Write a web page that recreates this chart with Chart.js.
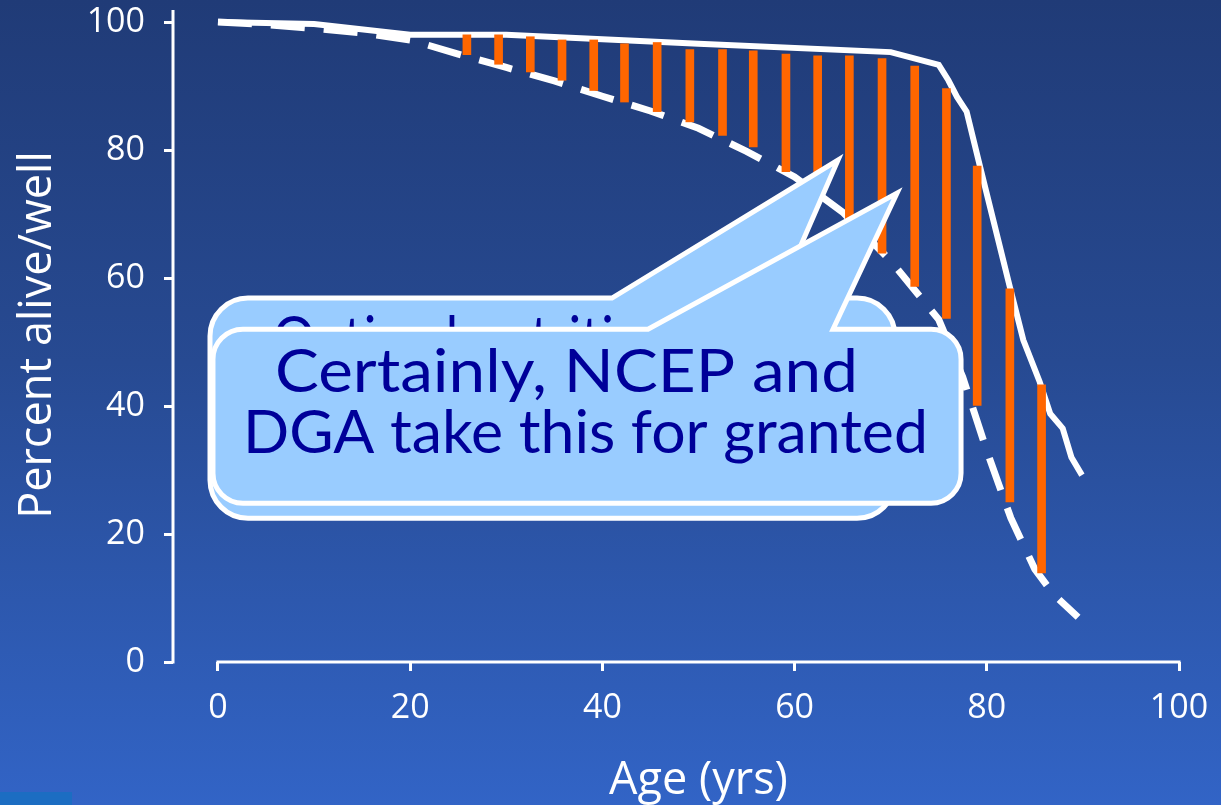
<!DOCTYPE html>
<html>
<head>
<meta charset="utf-8">
<script src="https://cdn.jsdelivr.net/npm/chart.js@4.4.1/dist/chart.umd.min.js"></script>
<style>
  html, body { margin: 0; padding: 0; width: 1221px; height: 805px; overflow: hidden; }
  body { position: relative; background: linear-gradient(to bottom, #203b77 0%, #274a92 45%, #3264c6 100%); }
  #wrap { position: absolute; left: 0; top: 0; width: 1221px; height: 805px; }
  .tab { position: absolute; left: 0; top: 792px; width: 72px; height: 13px; background: #1c6dc2; }
</style>
</head>
<body>
<div id="wrap"><canvas id="c" width="1221" height="805"></canvas></div>
<div class="tab"></div>
<script>
// Survival if everyone ate and lived optimally (solid curve)
const idealAges  = [0, 10, 20, 30, 50, 70, 75, 76, 76.9, 77.9, 79.3, 82.4, 83.8, 85.5, 86.6, 87.9, 88.8, 89.9];
const idealAlive = [100, 99.7, 98.0, 98.0, 96.6, 95.3, 93.3, 90.9, 88.3, 86.0, 77.4, 58.6, 50.3, 43.8, 38.8, 36.5, 32.0, 29.2];

// Typical survival (dashed curve)
const actualAges  = [0, 5, 10, 15, 20, 25, 30, 35, 40, 45, 50, 55, 60, 65, 70, 75, 77.5, 80, 82.5, 85, 87, 89.5];
const actualAlive = [100, 99.6, 99.0, 98.3, 97.2, 95.0, 92.9, 90.8, 88.4, 86.1, 83.4, 79.8, 75.8, 70.3, 62.7, 53.5, 44.5, 33.0, 22.5, 14.5, 10.5, 7.0];

// Gap between the two curves (orange bars)
const gapAges   = [25.9, 29.2, 32.5, 35.8, 39.1, 42.3, 45.7, 49.1, 52.5, 55.7, 59.1, 62.4, 65.7, 69.1, 72.5, 75.8, 79.0, 82.4, 85.7];
const gapTop    = [98.0, 98.0, 97.7, 97.2, 97.2, 96.6, 96.8, 95.7, 95.7, 95.5, 95.0, 94.7, 94.7, 94.3, 93.1, 89.6, 77.5, 58.3, 43.3];
const gapBottom = [94.9, 93.4, 92.2, 90.9, 89.3, 87.5, 86.0, 84.4, 82.3, 80.5, 76.6, 73.3, 68.3, 63.9, 58.7, 53.7, 40.1, 25.0, 13.9];

const xTicks = [0, 20, 40, 60, 80, 100];
const yTicks = [0, 20, 40, 60, 80, 100];

const xTitle = 'Age (yrs)';
const yTitle = 'Percent alive/well';
const backText = ['Optimal nutrition'];
const frontText = ['Certainly, NCEP and', 'DGA take this for granted'];

const tickFont = { family: 'Open Sans', size: 34 };

// Detached axis lines (x axis starts at age 0, y axis sits left of it)
const axisLines = {
  id: 'axisLines',
  beforeDatasetsDraw(chart) {
    const { ctx, scales: { x, y }, chartArea } = chart;
    ctx.save();
    ctx.strokeStyle = '#ffffff';
    ctx.lineWidth = 3;
    ctx.beginPath();
    ctx.moveTo(chartArea.left, chartArea.top);
    ctx.lineTo(chartArea.left, y.getPixelForValue(0) + 1.5);
    ctx.moveTo(x.getPixelForValue(0) - 1.5, y.getPixelForValue(0));
    ctx.lineTo(x.getPixelForValue(100) + 1.5, y.getPixelForValue(0));
    ctx.stroke();
    ctx.restore();
  }
};

// Axis titles
const axisTitles = {
  id: 'axisTitles',
  afterDraw(chart) {
    const { ctx, scales: { x, y } } = chart;
    ctx.save();
    ctx.fillStyle = '#ffffff';
    ctx.font = '45px "Open Sans"';
    ctx.textAlign = 'center';
    ctx.textBaseline = 'alphabetic';
    ctx.fillText(xTitle, (x.getPixelForValue(0) + x.getPixelForValue(100)) / 2, 794);
    ctx.translate(51, (y.getPixelForValue(0) + y.getPixelForValue(100)) / 2 - 7);
    ctx.rotate(-Math.PI / 2);
    ctx.fillText(yTitle, 0, 0);
    ctx.restore();
  }
};

// Speech-bubble callouts, laid out in axis units
const bubbles = [
  { left: -0.83, right: 70.45, top: 56.86, bottom: 22.46, radius: 38,
    baseL: 41.0, baseR: 58.27, tipX: 64.52, tipY: 78.43 },
  { left: -0.52, right: 77.32, top: 52.01, bottom: 24.81, radius: 30,
    baseL: 44.75, baseR: 64.0, tipX: 70.66, tipY: 73.27 }
];

function bubblePath(ctx, x, y, b) {
  const l = x.getPixelForValue(b.left), r = x.getPixelForValue(b.right);
  const t = y.getPixelForValue(b.top), btm = y.getPixelForValue(b.bottom);
  const rad = b.radius;
  ctx.beginPath();
  ctx.moveTo(l + rad, t);
  ctx.lineTo(x.getPixelForValue(b.baseL), t);
  ctx.lineTo(x.getPixelForValue(b.tipX), y.getPixelForValue(b.tipY));
  ctx.lineTo(x.getPixelForValue(b.baseR), t);
  ctx.lineTo(r - rad, t);
  ctx.arcTo(r, t, r, t + rad, rad);
  ctx.lineTo(r, btm - rad);
  ctx.arcTo(r, btm, r - rad, btm, rad);
  ctx.lineTo(l + rad, btm);
  ctx.arcTo(l, btm, l, btm - rad, rad);
  ctx.lineTo(l, t + rad);
  ctx.arcTo(l, t, l + rad, t, rad);
  ctx.closePath();
}

function drawBubble(ctx, x, y, b) {
  bubblePath(ctx, x, y, b);
  ctx.fillStyle = '#99ccff';
  ctx.fill();
  ctx.lineWidth = 5;
  ctx.lineJoin = 'miter';
  ctx.strokeStyle = '#ffffff';
  ctx.stroke();
}

function fitText(ctx, txt, px, baseline, width, align) {
  const w = ctx.measureText(txt).width;
  ctx.save();
  ctx.translate(px, baseline);
  ctx.scale(width / w, 1);
  ctx.textAlign = align;
  ctx.fillText(txt, 0, 0);
  ctx.restore();
}

const callouts = {
  id: 'callouts',
  afterDraw(chart) {
    const { ctx, scales: { x, y } } = chart;
    ctx.save();
    ctx.font = '60px Lato';
    ctx.textBaseline = 'alphabetic';
    drawBubble(ctx, x, y, bubbles[0]);
    ctx.fillStyle = '#000099';
    fitText(ctx, backText[0], x.getPixelForValue(5.72), y.getPixelForValue(47.3), 400, 'left');
    drawBubble(ctx, x, y, bubbles[1]);
    ctx.fillStyle = '#000099';
    fitText(ctx, frontText[0], x.getPixelForValue(36.26), y.getPixelForValue(42.16), 583, 'center');
    fitText(ctx, frontText[1], x.getPixelForValue(38.24), y.getPixelForValue(32.63), 685, 'center');
    ctx.restore();
  }
};

const ctx = document.getElementById('c').getContext('2d');
new Chart(ctx, {
  type: 'line',
  data: {
    datasets: [
      {
        type: 'bar',
        label: 'Gap',
        data: gapAges.map((a, i) => ({ x: a, y: [gapBottom[i], gapTop[i]] })),
        backgroundColor: '#ff6600',
        borderWidth: 0,
        barThickness: 8,
        grouped: false,
        order: 0
      },
      {
        type: 'line',
        label: 'Optimal',
        data: idealAges.map((a, i) => ({ x: a, y: idealAlive[i] })),
        borderColor: '#ffffff',
        borderWidth: 6,
        pointRadius: 0,
        tension: 0,
        fill: false,
        order: 1
      },
      {
        type: 'line',
        label: 'Typical',
        data: actualAges.map((a, i) => ({ x: a, y: actualAlive[i] })),
        borderColor: '#ffffff',
        borderWidth: 7,
        borderDash: [34, 19],
        borderCapStyle: 'butt',
        pointRadius: 0,
        tension: 0,
        fill: false,
        order: 2
      }
    ]
  },
  options: {
    responsive: false,
    animation: false,
    events: [],
    layout: { padding: { top: 10, right: 42, left: 0, bottom: 0 } },
    plugins: { legend: { display: false }, tooltip: { enabled: false } },
    scales: {
      x: {
        type: 'linear',
        min: -4.68,
        max: 100,
        offset: false,
        afterFit(s) { s.height = 143; s.paddingLeft = 0; s.paddingRight = 0; },
        afterBuildTicks(s) { s.ticks = xTicks.map(v => ({ value: v })); },
        ticks: { color: '#ffffff', font: tickFont, padding: 17, maxRotation: 0, autoSkip: false },
        grid: { drawOnChartArea: false, color: '#ffffff', lineWidth: 3, tickLength: 9, offset: false },
        border: { display: false }
      },
      y: {
        type: 'linear',
        min: 0,
        max: 101.88,
        afterFit(s) { s.width = 173; s.paddingTop = 0; s.paddingBottom = 0; },
        afterBuildTicks(s) { s.ticks = yTicks.map(v => ({ value: v })); },
        ticks: { color: '#ffffff', font: tickFont, padding: 19, autoSkip: false },
        grid: { drawOnChartArea: false, color: '#ffffff', lineWidth: 3, tickLength: 9 },
        border: { display: false }
      }
    }
  },
  plugins: [axisLines, axisTitles, callouts]
});
</script>
</body>
</html>
